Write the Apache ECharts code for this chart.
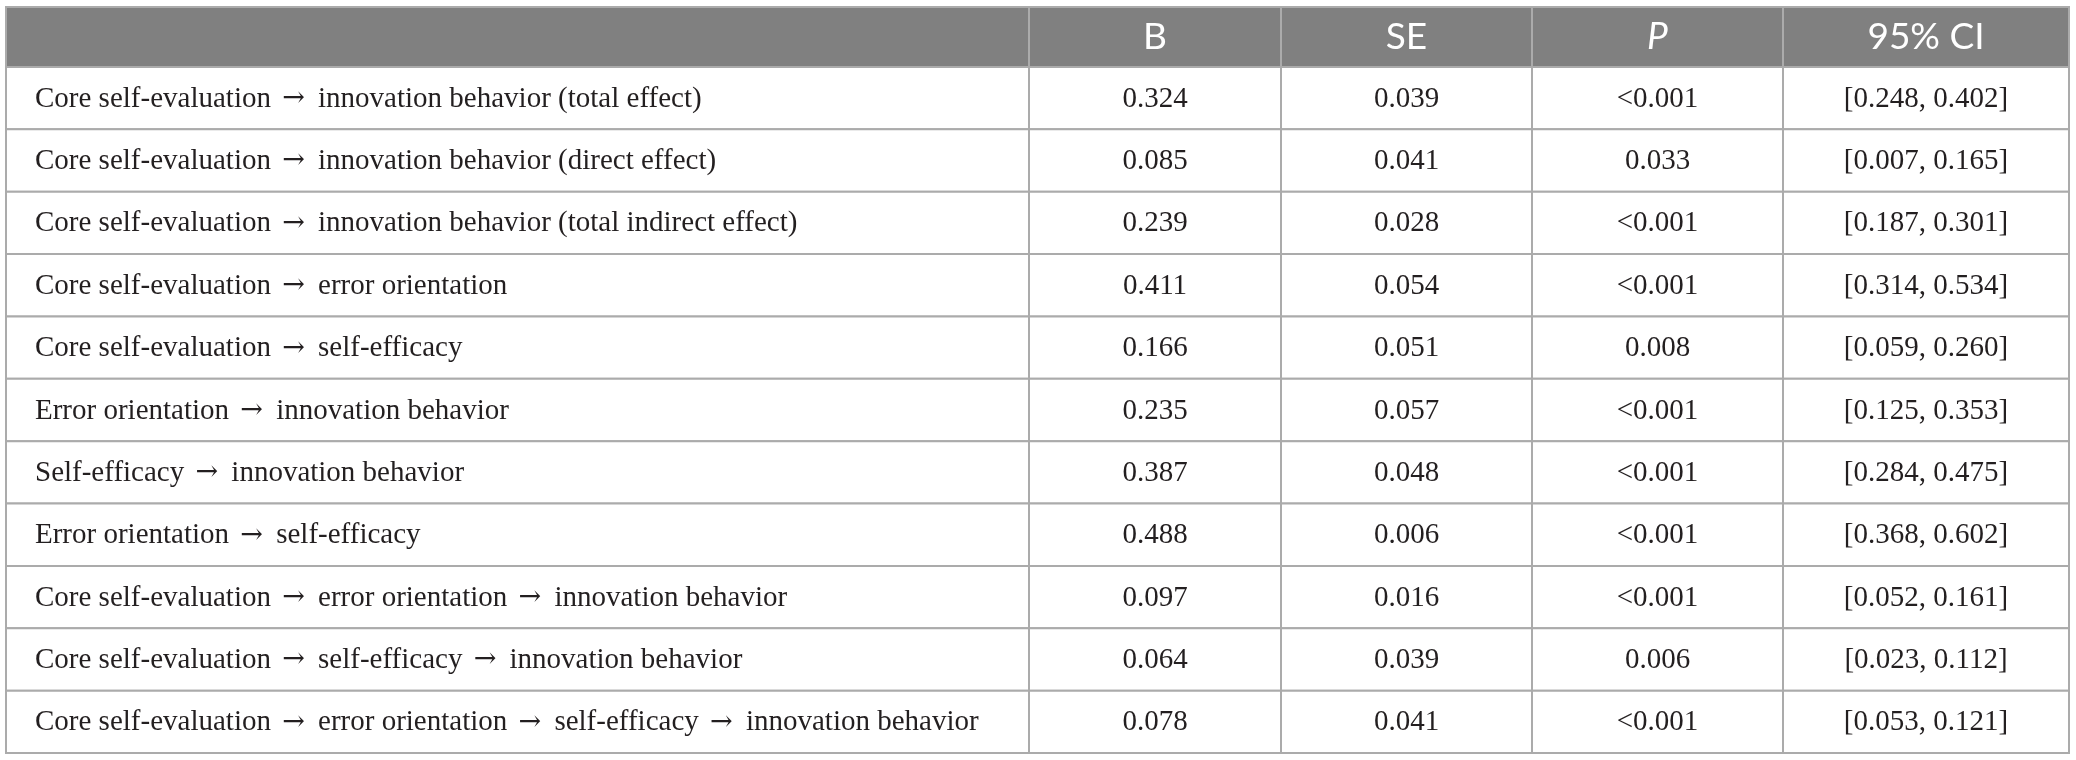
<!DOCTYPE html>
<html>
<head>
<meta charset="utf-8">
<script src="https://cdn.jsdelivr.net/npm/echarts@6/dist/echarts.min.js"></script>
<style>
  html, body { margin: 0; padding: 0; background: #ffffff; }
  #chart { width: 2076px; height: 760px; }
</style>
</head>
<body>
<div id="chart"></div>
<script>
// ---- data ----
const headers = ["", "B", "SE", "P", "95% CI"];
const paths = [
  "Core self-evaluation \u2192 innovation behavior (total effect)",
  "Core self-evaluation \u2192 innovation behavior (direct effect)",
  "Core self-evaluation \u2192 innovation behavior (total indirect effect)",
  "Core self-evaluation \u2192 error orientation",
  "Core self-evaluation \u2192 self-efficacy",
  "Error orientation \u2192 innovation behavior",
  "Self-efficacy \u2192 innovation behavior",
  "Error orientation \u2192 self-efficacy",
  "Core self-evaluation \u2192 error orientation \u2192 innovation behavior",
  "Core self-evaluation \u2192 self-efficacy \u2192 innovation behavior",
  "Core self-evaluation \u2192 error orientation \u2192 self-efficacy \u2192 innovation behavior"
];
const B = [0.324, 0.085, 0.239, 0.411, 0.166, 0.235, 0.387, 0.488, 0.097, 0.064, 0.078];
const SE = [0.039, 0.041, 0.028, 0.054, 0.051, 0.057, 0.048, 0.006, 0.016, 0.039, 0.041];
const P = ["<0.001", "0.033", "<0.001", "<0.001", "0.008", "<0.001", "<0.001", "<0.001", "<0.001", "0.006", "<0.001"];
const ciLow = [0.248, 0.007, 0.187, 0.314, 0.059, 0.125, 0.284, 0.368, 0.052, 0.023, 0.053];
const ciHigh = [0.402, 0.165, 0.301, 0.534, 0.260, 0.353, 0.475, 0.602, 0.161, 0.112, 0.121];

// ---- layout (not data) ----
const COL_WIDTHS = [1023, 252, 251, 251, 286];
const HEADER_ROWS = 0.96; // header height in row units
const EDGES = [0];
COL_WIDTHS.forEach(w => EDGES.push(EDGES[EDGES.length - 1] + w));
const LINE = '#ababab';
const HEAD_BG = '#808080';
const BODY_FONT = '"Liberation Serif", "Times New Roman", serif';
const ARROW_FONT = '"DejaVu Serif", serif';
const HEAD_FONT = 'Lato, "Open Sans", sans-serif';
const BODY_SIZE = 29;

// ---- build cells ----
const cells = [];
headers.forEach((h, c) => cells.push({ value: [c, -1], text: h, head: true }));
paths.forEach((p, r) => {
  cells.push({ value: [0, r], text: p.split('\u2192').join('{a|\u2192}') });
  cells.push({ value: [1, r], text: B[r].toFixed(3) });
  cells.push({ value: [2, r], text: SE[r].toFixed(3) });
  cells.push({ value: [3, r], text: P[r] });
  cells.push({ value: [4, r], text: '[' + ciLow[r].toFixed(3) + ', ' + ciHigh[r].toFixed(3) + ']' });
});

function renderItem(params, api) {
  const cell = cells[params.dataIndex];
  const col = api.value(0);
  const row = api.value(1);
  const top = row < 0 ? -HEADER_ROWS : row;
  const bottom = row < 0 ? 0 : row + 1;
  const p0 = api.coord([EDGES[col], top]);
  const p1 = api.coord([EDGES[col + 1], bottom]);
  const x = Math.min(p0[0], p1[0]), y = Math.min(p0[1], p1[1]);
  const w = Math.abs(p1[0] - p0[0]), h = Math.abs(p1[1] - p0[1]);
  const left = col === 0;
  const textEl = {
    type: 'text',
    x: left ? x + 29 : x + w / 2,
    y: y + h / 2 + (cell.head ? 0 : 1),
    z2: 10,
    style: {
      text: cell.text,
      fill: cell.head ? '#ffffff' : '#231f20',
      fontFamily: cell.head ? HEAD_FONT : BODY_FONT,
      fontSize: cell.head ? 37 : BODY_SIZE,
      fontStyle: (cell.head && cell.text === 'P') ? 'italic' : 'normal',
      align: left ? 'left' : 'center',
      verticalAlign: 'middle',
      rich: {
        a: { fontFamily: ARROW_FONT, fontSize: 27, fill: '#231f20', padding: [0, 6, 0, 4] }
      }
    }
  };
  return {
    type: 'group',
    children: [
      {
        type: 'rect',
        shape: { x: x, y: y, width: w, height: h },
        style: { fill: cell.head ? HEAD_BG : '#ffffff', stroke: LINE, lineWidth: 2 }
      },
      textEl
    ]
  };
}

const chart = echarts.init(document.getElementById('chart'), null, { renderer: 'canvas' });
chart.setOption({
  animation: false,
  grid: { left: 6, top: 7, width: 2063, height: 746 },
  xAxis: { type: 'value', min: 0, max: EDGES[EDGES.length - 1], show: false },
  yAxis: { type: 'value', min: -HEADER_ROWS, max: paths.length, inverse: true, show: false },
  series: [{
    type: 'custom',
    renderItem: renderItem,
    clip: false,
    silent: true,
    encode: { x: 0, y: 1 },
    data: cells.map(c => c.value)
  }]
});
</script>
</body>
</html>
